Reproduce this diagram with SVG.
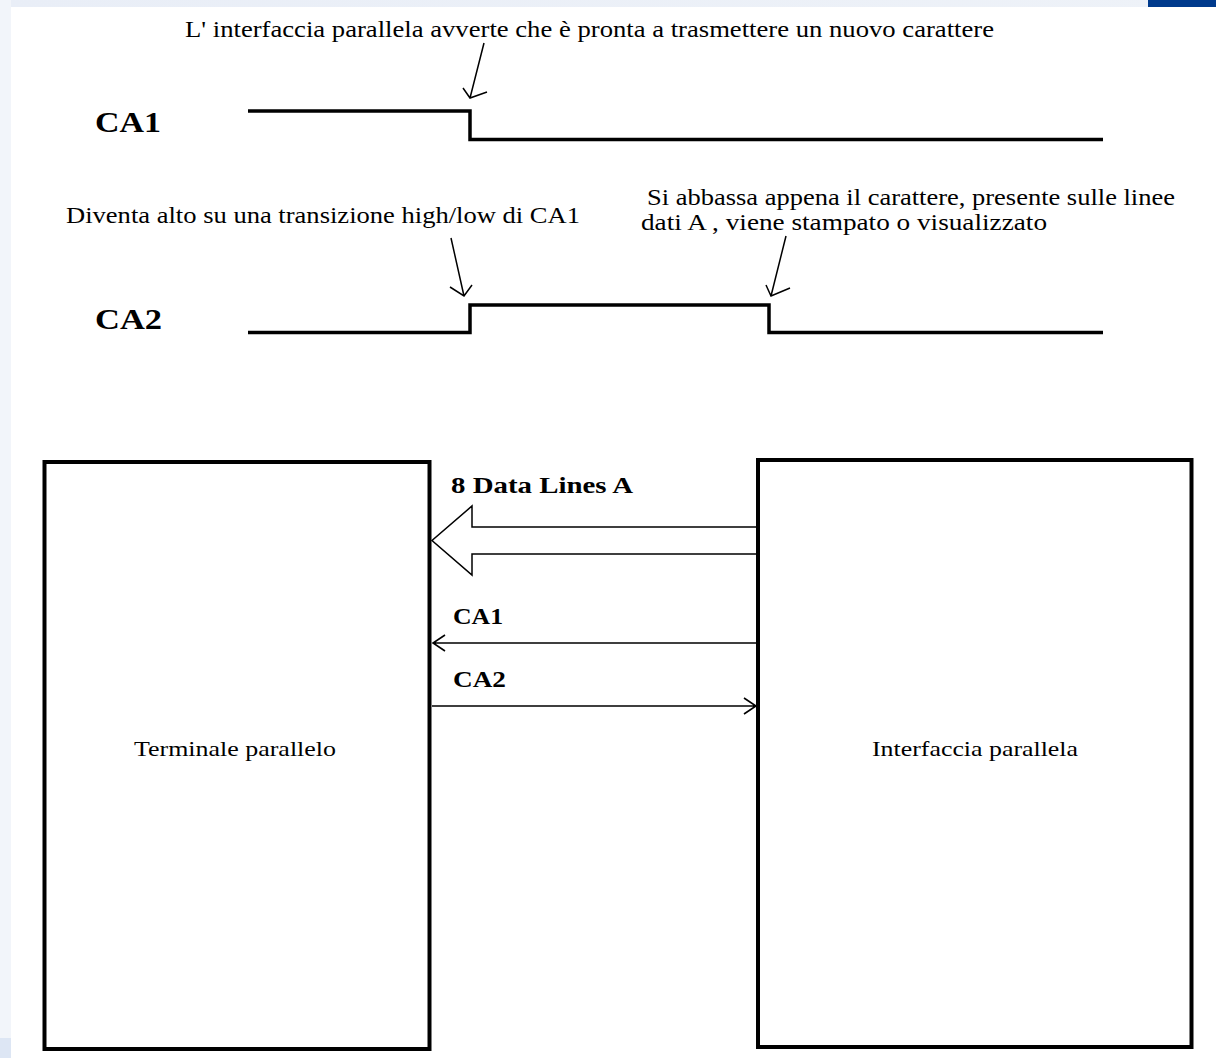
<svg xmlns="http://www.w3.org/2000/svg" width="1216" height="1058" viewBox="0 0 1216 1058">
<defs>
<linearGradient id="topg" x1="0" y1="0" x2="1" y2="0">
<stop offset="0" stop-color="#e9eef7"/>
<stop offset="1" stop-color="#eef2f8"/>
</linearGradient>
<style>
.t{font-family:"Liberation Serif","Times New Roman",serif;fill:#000}
.b{font-weight:bold}
.sig{fill:none;stroke:#000;stroke-width:3.5;stroke-linejoin:miter}
.ann{fill:none;stroke:#000;stroke-width:1.5}
.box{fill:#fff;stroke:#000;stroke-width:4}
.ln{fill:none;stroke:#000;stroke-width:1.6}
</style>
</defs>
<rect x="0" y="0" width="1216" height="1058" fill="#fff"/>
<rect x="0" y="0" width="1216" height="7" fill="url(#topg)"/>
<rect x="0" y="0" width="11" height="1058" fill="#f2f5fa"/>
<rect x="0" y="1038" width="11" height="20" fill="#dde6f4"/>
<rect x="1148" y="0" width="68" height="7" fill="#003a8c"/>

<g id="timing">
<text class="t" x="185" y="37" font-size="23.5" textLength="809" lengthAdjust="spacingAndGlyphs">L' interfaccia parallela avverte che è pronta a trasmettere un nuovo carattere</text>
<text class="t b" x="95" y="132" font-size="30" textLength="66" lengthAdjust="spacingAndGlyphs">CA1</text>
<path class="sig" d="M248 111 H470 V139.5 H1103"/>
<path class="ann" d="M484 43 L470 98 M463 88 L470 98 L487 92"/>

<text class="t" x="66" y="223" font-size="23.5" textLength="514" lengthAdjust="spacingAndGlyphs">Diventa alto su una transizione high/low di CA1</text>
<text class="t" x="647" y="205" font-size="23.5" textLength="528" lengthAdjust="spacingAndGlyphs">Si abbassa appena il carattere, presente sulle linee</text>
<text class="t" x="641" y="230" font-size="23.5" textLength="406" lengthAdjust="spacingAndGlyphs">dati A , viene stampato o visualizzato</text>
<text class="t b" x="95" y="329" font-size="30" textLength="67" lengthAdjust="spacingAndGlyphs">CA2</text>
<path class="sig" d="M248 332.5 H470 V305 H769 V332.5 H1103"/>
<path class="ann" d="M451 238 L464 296 M450 287 L464 296 L472 285"/>
<path class="ann" d="M786 236 L771 296 M766 285 L771 296 L790 288"/>
</g>

<g id="terminale">
<rect class="box" x="44.5" y="462" width="385" height="587"/>
<text class="t" x="134" y="756" font-size="22" textLength="202" lengthAdjust="spacingAndGlyphs">Terminale parallelo</text>
</g>

<g id="interfaccia">
<rect class="box" x="758" y="460" width="433.5" height="587"/>
<text class="t" x="872" y="756" font-size="22" textLength="206" lengthAdjust="spacingAndGlyphs">Interfaccia parallela</text>
</g>

<g id="connectors">
<path fill="#fff" stroke="#000" stroke-width="1.5" d="M756 527 H472 V506 L432 540.5 L472 575 V554 H756"/>
<text class="t b" x="451" y="493" font-size="23" textLength="182" lengthAdjust="spacingAndGlyphs">8 Data Lines A</text>
<path class="ln" d="M756 643 H433 M445 635 L433 643 L445 651"/>
<text class="t b" x="453" y="624" font-size="23" textLength="50" lengthAdjust="spacingAndGlyphs">CA1</text>
<path class="ln" d="M432 706 H756 M744 698 L756 706 L744 714"/>
<text class="t b" x="453" y="687" font-size="23" textLength="53" lengthAdjust="spacingAndGlyphs">CA2</text>
</g>
</svg>
